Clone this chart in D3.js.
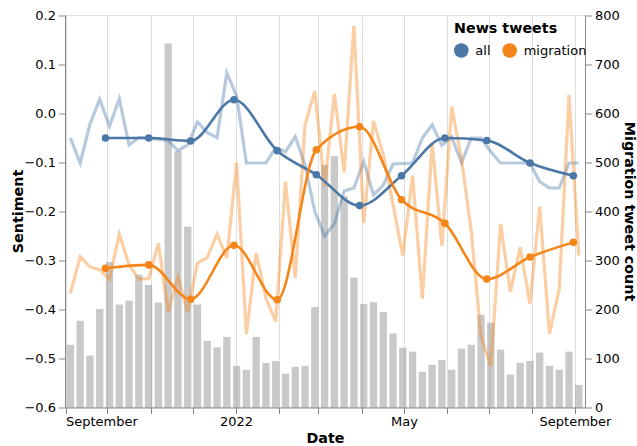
<!DOCTYPE html>
<html><head><meta charset="utf-8">
<script src="https://cdn.jsdelivr.net/npm/d3@7"></script>
<style>
html,body{margin:0;padding:0;background:#fff;}
svg{display:block;font-family:"DejaVu Sans",sans-serif;}
</style></head>
<body><svg id="chart" width="637" height="446"></svg>
<script>
// ---------- data ----------
const xDomain = ["2021-09-01T00:00", "2022-09-08T07:00"];
const weekStart = "2021-09-04T12:00";           // first weekly observation
const weeklyCount = [128,177,106,201,297,210,218,271,250,214,743,523,369,210,136,123,144,85,77,144,91,95,69,83,85,205,495,513,431,265,211,215,195,151,122,114,73,87,97,77,120,128,189,173,118,67,91,95,112,85,77,114,46];
const weeklyAll = [-0.050,-0.101,-0.022,0.029,-0.026,0.030,-0.064,-0.049,-0.050,-0.053,-0.055,-0.076,-0.064,-0.017,-0.039,-0.049,0.083,0.036,-0.101,-0.101,-0.101,-0.070,-0.078,-0.047,-0.105,-0.200,-0.250,-0.225,-0.158,-0.152,-0.098,-0.166,-0.146,-0.103,-0.102,-0.101,-0.050,-0.023,-0.065,-0.048,-0.100,-0.050,-0.050,-0.078,-0.101,-0.101,-0.101,-0.101,-0.139,-0.152,-0.152,-0.101,-0.101];
const weeklyMigration = [-0.367,-0.292,-0.313,-0.319,-0.338,-0.246,-0.309,-0.338,-0.337,-0.265,-0.405,-0.333,-0.405,-0.305,-0.294,-0.246,-0.295,-0.101,-0.450,-0.285,-0.377,-0.425,-0.139,-0.336,-0.023,0.046,-0.149,0.040,-0.120,0.179,-0.224,-0.015,-0.084,-0.186,-0.290,-0.127,-0.378,-0.060,-0.270,0.014,-0.093,-0.240,-0.456,-0.516,-0.225,-0.364,-0.273,-0.388,-0.190,-0.450,-0.358,0.038,-0.290];
const months = ["2021-10-01","2021-11-01","2021-12-01","2022-01-01","2022-02-01","2022-03-01","2022-04-01","2022-05-01","2022-06-01","2022-07-01","2022-08-01","2022-09-01"];
const monthOffsetDays = -1.4;
const monthlyAll = [-0.050,-0.050,-0.056,0.028,-0.076,-0.125,-0.188,-0.127,-0.050,-0.055,-0.101,-0.127];
const monthlyMigration = [-0.316,-0.309,-0.379,-0.269,-0.380,-0.074,-0.027,-0.176,-0.224,-0.338,-0.293,-0.263];
const seriesNames = ["all","migration"];
const seriesColors = ["#4c78a8","#f58518"];
const xLabelDates = ["2021-09-01","2022-01-01","2022-05-01","2022-09-01"];
const xLabelTexts = ["September","2022","May","September"];
const yLeftTicks = [0.2,0.1,0.0,-0.1,-0.2,-0.3,-0.4,-0.5,-0.6];
const yRightTicks = [0,100,200,300,400,500,600,700,800];

// ---------- layout ----------
const L = 65.5, R = 585.5, T = 15.5, B = 407.5;
const svg = d3.select("#chart");
const pT = d3.timeParse("%Y-%m-%dT%H:%M"), pD = d3.timeParse("%Y-%m-%d");
const x = d3.scaleTime().domain(xDomain.map(pT)).range([L, R]);
const y = d3.scaleLinear().domain([-0.6, 0.2]).range([B, T]);
const yR = d3.scaleLinear().domain([0, 800]).range([B, T]);

const wStart = pT(weekStart);
const weeks = weeklyCount.map((c, i) => ({date: d3.timeDay.offset(wStart, 7*i), count: c, all: weeklyAll[i], mig: weeklyMigration[i]}));
const monthly = months.map((m, i) => ({date: new Date(pD(m).getTime() + monthOffsetDays*864e5), all: monthlyAll[i], mig: monthlyMigration[i]}));
const monthTicks = d3.timeMonth.range(x.domain()[0], x.domain()[1]);

// grid
svg.append("g").selectAll("line").data(monthTicks).join("line")
  .attr("x1", d => Math.round(x(d)) + 0.5).attr("x2", d => Math.round(x(d)) + 0.5)
  .attr("y1", T).attr("y2", B).attr("stroke", "#ddd").attr("stroke-width", 1);
svg.append("rect").attr("x", L).attr("y", T).attr("width", R - L).attr("height", B - T)
  .attr("fill", "none").attr("stroke", "#ddd");

// bars
const bw = 7.3;
svg.append("g").selectAll("rect").data(weeks).join("rect")
  .attr("x", d => x(d.date) - bw/2).attr("width", bw)
  .attr("y", d => yR(d.count)).attr("height", d => yR(0) - yR(d.count))
  .attr("fill", "#888").attr("fill-opacity", 0.45);

// light weekly lines
const lineW = k => d3.line().x(d => x(d.date)).y(d => y(d[k]));
[["all",0],["mig",1]].forEach(([k, i]) => {
  svg.append("path").datum(weeks).attr("d", lineW(k))
    .attr("fill", "none").attr("stroke", seriesColors[i]).attr("stroke-opacity", 0.4)
    .attr("stroke-width", 3.2).attr("stroke-linejoin", "miter");
});

// smoothed monthly lines + points
[["all",0],["mig",1]].forEach(([k, i]) => {
  svg.append("path").datum(monthly)
    .attr("d", d3.line().x(d => x(d.date)).y(d => y(d[k])).curve(d3.curveMonotoneX))
    .attr("fill", "none").attr("stroke", seriesColors[i]).attr("stroke-width", 2.6);
  svg.append("g").selectAll("circle").data(monthly).join("circle")
    .attr("cx", d => x(d.date)).attr("cy", d => y(d[k])).attr("r", 3.8)
    .attr("fill", seriesColors[i]);
});

// axes
function styleAxis(g) {
  g.select(".domain").attr("stroke", "#888");
  g.selectAll(".tick line").attr("stroke", "#888");
  g.selectAll("text").attr("fill", "#000").attr("font-size", 13).attr("font-family", "DejaVu Sans");
}
const labelMap = new Map(xLabelDates.map((d, i) => [+pD(d), xLabelTexts[i]]));
const gx = svg.append("g").attr("transform", `translate(0,${B})`)
  .call(d3.axisBottom(x).tickValues(monthTicks).tickSize(6.5).tickPadding(3)
    .tickFormat(d => labelMap.get(+d) || ""))
  .call(g => g.select(".domain").attr("d", `M${L},0.5H${R}`));
styleAxis(gx);
gx.selectAll(".tick").attr("transform", d => `translate(${Math.round(x(d)) + 0.5},0)`);
gx.selectAll(".tick text").attr("dy", null).attr("y", 18.5)
  .attr("text-anchor", d => (+d === +x.domain()[0]) ? "start" : "middle")
  .attr("x", d => (+d === +x.domain()[0]) ? -0.5 : 0);

const gl = svg.append("g").attr("transform", `translate(${L},0)`)
  .call(d3.axisLeft(y).tickValues(yLeftTicks).tickSize(6.5).tickPadding(3).tickFormat(d3.format(".1f")));
styleAxis(gl);
gl.select(".domain").attr("d", `M0,${T}V${B}`);

const gr = svg.append("g").attr("transform", `translate(${R},0)`)
  .call(d3.axisRight(yR).tickValues(yRightTicks).tickSize(6.5).tickPadding(3));
styleAxis(gr);
gr.select(".domain").attr("d", `M0,${T}V${B}`);

// axis titles
svg.append("text").attr("x", (L + R)/2).attr("y", 443).attr("text-anchor", "middle")
  .attr("font-weight", "bold").attr("font-size", 14.3).text("Date");
svg.append("text").attr("transform", `translate(23,${(T + B)/2}) rotate(-90)`)
  .attr("text-anchor", "middle").attr("font-weight", "bold").attr("font-size", 14.3).text("Sentiment");
svg.append("text").attr("transform", `translate(624.5,${(T + B)/2}) rotate(90)`)
  .attr("text-anchor", "middle").attr("font-weight", "bold").attr("font-size", 14.3).text("Migration tweet count");

// legend
const lg = svg.append("g");
lg.append("text").attr("x", 454).attr("y", 33.3).attr("font-weight", "bold").attr("font-size", 14.3).text("News tweets");
const legX = [461.3, 509.7];
seriesNames.forEach((n, i) => {
  lg.append("circle").attr("cx", legX[i]).attr("cy", 50.5).attr("r", 7.3).attr("fill", seriesColors[i]);
  lg.append("text").attr("x", legX[i] + 14).attr("y", 55).attr("font-size", 13).text(n);
});
</script></body></html>
